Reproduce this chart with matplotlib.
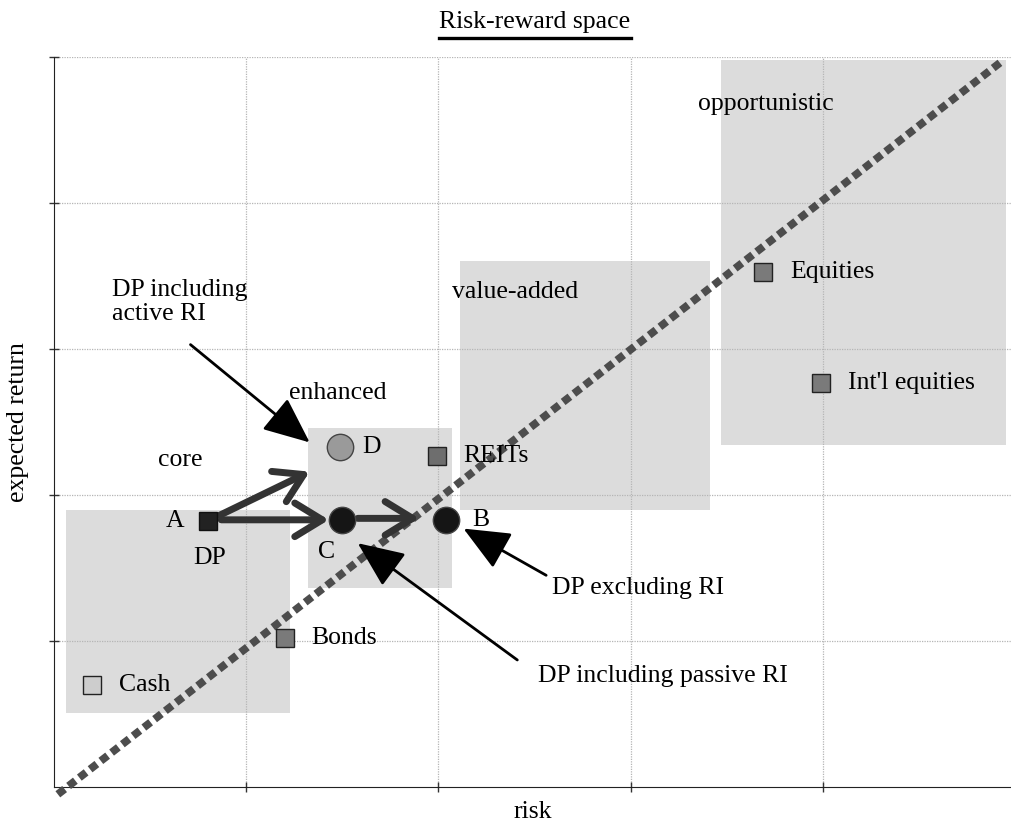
import matplotlib
matplotlib.use("Agg")
import matplotlib.pyplot as plt
from matplotlib.patches import Rectangle

plt.rcParams['font.family'] = ['Liberation Serif', 'DejaVu Serif']
FS = 18.5

# style boxes: name, x0, x1, y0, y1 (in risk / return units)
box_names = ["core", "enhanced", "value-added", "opportunistic"]
box_x0 = [0.06, 1.32, 2.11, 3.47]
box_x1 = [1.23, 2.07, 3.41, 4.95]
box_y0 = [0.51, 1.36, 1.90, 2.34]
box_y1 = [1.90, 2.46, 3.60, 4.98]
box_label_x = [0.54, 1.22, 2.07, 3.35]
box_label_y = [2.24, 2.70, 3.39, 4.68]

# assets (squares)
asset_names = ["Cash", "Bonds", "REITs", "Equities", "Int'l equities"]
asset_risk = [0.20, 1.20, 1.99, 3.69, 3.99]
asset_ret = [0.70, 1.02, 2.27, 3.53, 2.77]
asset_fill = ["#cdcdcd", "#7a7a7a", "#6e6e6e", "#7a7a7a", "#7a7a7a"]

# portfolios
dp_risk, dp_ret = 0.80, 1.82
pt_names = ["C", "B", "D"]
pt_risk = [1.50, 2.04, 1.49]
pt_ret = [1.83, 1.83, 2.33]
pt_fill = ["#151515", "#151515", "#9a9a9a"]

# efficient line
line_x = [0.02, 4.93]
line_y = [-0.05, 4.97]

fig = plt.figure(figsize=(10.11, 8.23), dpi=100)
ax = fig.add_axes([54/1011, 1-787/823, 1-54/1011, (787-57)/823])
ax.set_xlim(0, 4.978)
ax.set_ylim(0, 5)

for i in range(len(box_names)):
    ax.add_patch(Rectangle((box_x0[i], box_y0[i]), box_x1[i]-box_x0[i],
                           box_y1[i]-box_y0[i], facecolor="#dcdcdc",
                           edgecolor="none", zorder=0))
    ax.text(box_label_x[i], box_label_y[i], box_names[i], fontsize=FS,
            ha="left", va="center", zorder=5)

ax.set_xticks([1, 2, 3, 4])
ax.set_yticks([1, 2, 3, 4, 5])
ax.set_xticklabels([])
ax.set_yticklabels([])
ax.tick_params(direction="inout", length=7, width=1, color="#333")
ax.set_axisbelow(True)
ax.grid(True, color="#b5b5b5", linestyle=(0, (1, 1)), linewidth=0.9)
ax.spines["top"].set_visible(False)
ax.spines["right"].set_visible(False)
ax.spines["left"].set_color("#222")
ax.spines["bottom"].set_color("#222")

ax.plot(line_x, line_y, color="#4d4d4d", linewidth=5.6,
        linestyle=(0, (1.1, 0.65)), solid_capstyle="butt",
        dash_capstyle="butt", zorder=3, clip_on=False)

# thick grey move arrows
gray = dict(arrowstyle="->,head_length=0.9,head_width=0.55", color="#333333",
            lw=5, shrinkA=0, shrinkB=0, mutation_scale=22)
ax.annotate("", xy=(1.43, 1.83), xytext=(0.87, 1.83), arrowprops=gray, zorder=4)
ax.annotate("", xy=(1.33, 2.16), xytext=(0.86, 1.86), arrowprops=gray, zorder=4)
ax.annotate("", xy=(1.90, 1.84), xytext=(1.58, 1.84), arrowprops=gray, zorder=4)

for i in range(len(asset_names)):
    ax.plot(asset_risk[i], asset_ret[i], marker="s", markersize=13,
            markerfacecolor=asset_fill[i], markeredgecolor="#222",
            markeredgewidth=1, zorder=6)
    ax.text(asset_risk[i] + 0.14, asset_ret[i], asset_names[i], fontsize=FS,
            ha="left", va="center", zorder=6)

ax.plot(dp_risk, dp_ret, marker="s", markersize=13, markerfacecolor="#222",
        markeredgecolor="#111", zorder=6)
ax.text(dp_risk - 0.12, dp_ret, "A", fontsize=FS, ha="right", va="center")
ax.text(dp_risk + 0.01, dp_ret - 0.25, "DP", fontsize=FS, ha="center", va="center")

for i in range(len(pt_names)):
    ax.plot(pt_risk[i], pt_ret[i], marker="o", markersize=19,
            markerfacecolor=pt_fill[i], markeredgecolor="#444",
            markeredgewidth=1, zorder=6)
ax.text(1.42, 1.61, "C", fontsize=FS, ha="center", va="center")
ax.text(2.22, 1.83, "B", fontsize=FS, ha="center", va="center")
ax.text(1.65, 2.33, "D", fontsize=FS, ha="center", va="center")

# black callouts
black = dict(arrowstyle="-|>,head_length=1.15,head_width=0.5", color="black",
             lw=2, shrinkA=0, shrinkB=0, mutation_scale=25)
ax.annotate("", xy=(1.33, 2.36), xytext=(0.71, 3.03), arrowprops=black, zorder=7)
ax.annotate("", xy=(1.58, 1.67), xytext=(2.41, 0.87), arrowprops=black, zorder=7)
ax.annotate("", xy=(2.13, 1.77), xytext=(2.56, 1.45), arrowprops=black, zorder=7)
ax.text(0.30, 3.32, "DP including\nactive RI", fontsize=FS, ha="left",
        va="center", linespacing=1.1)
ax.text(2.59, 1.36, "DP excluding RI", fontsize=FS, ha="left", va="center")
ax.text(2.52, 0.76, "DP including passive RI", fontsize=FS, ha="left", va="center")

ax.set_xlabel("risk", fontsize=FS, va="center")
ax.xaxis.set_label_coords(0.5, -(812-787)/730)
ax.set_ylabel("expected return", fontsize=FS, va="center")
ax.yaxis.set_label_coords(-(54-18)/957, 0.5)

title = fig.text(535/1011, 1-22/823, "Risk-reward space", fontsize=FS,
                 ha="center", va="center")
fig.canvas.draw()
bb = title.get_window_extent().transformed(fig.transFigure.inverted())
fig.add_artist(plt.Line2D([bb.x0, bb.x1], [1-38/823, 1-38/823],
                          color="black", lw=2.4, transform=fig.transFigure))

fig.savefig("out.png", dpi=100)
